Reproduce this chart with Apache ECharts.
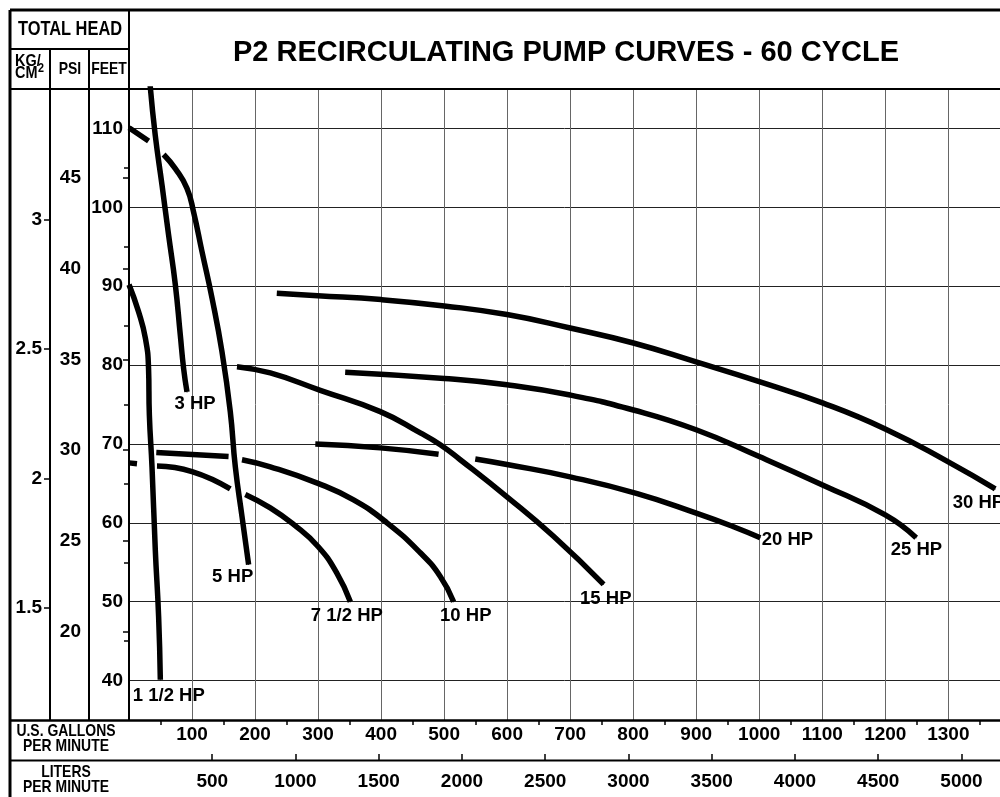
<!DOCTYPE html>
<html>
<head>
<meta charset="utf-8">
<title>P2 Recirculating Pump Curves - 60 Cycle</title>
<script src="https://cdn.jsdelivr.net/npm/echarts@6/dist/echarts.min.js"></script>
<style>
  html, body { margin: 0; padding: 0; background: #fff; }
  #main { width: 1000px; height: 797px; }
</style>
</head>
<body>
<div id="main"></div>
<script>
// pump curves: [flow in U.S. gpm, total head in feet], null = break where another curve crosses
const hp1_5 = [[0, 90.2], [15, 86.8], [26, 83.4], [31, 79.6], [32.3, 73.7], [36.5, 67.1], [41.7, 56.6], [47, 48.1], [49.7, 40.1]];
const hp3 = [[33.5, 115.5], [41.7, 109.1], [52.4, 102.8], [62.8, 96.5], [73.5, 90.2], [81.4, 83.8], [86.6, 79.6], [92, 76.6]];
const hp5 = [[0, 110.1], [31.1, 108.4], null, [54.9, 106.7], [73.5, 104.9], [92, 102.4], [102.5, 99.4], [115.8, 94.4], [131.7, 88.5], [147.5, 81.7], [160.7, 74.1], [168.7, 67.1], [179.3, 60.8], [189.8, 54.7]];
const hp7_5 = [[0, 67.6], [12.7, 67.5], null, [44.4, 67.2], [100, 66.5], [160.7, 64.3], null, [184.5, 63.6], [224.2, 61.9], [261.1, 59.8], [299.9, 57.0], [330, 53.6], [351.2, 50.0]];
const hp10 = [[43.3, 68.9], [158, 68.4], null, [179.3, 68.0], [224.2, 67.1], [299.9, 65.0], [356.3, 62.9], [409.3, 60.0], [462.2, 56.2], [493.9, 53.2], [515, 50.0]];
const hp15 = [[171.3, 79.8], [224.2, 79.0], [303.5, 76.8], [398.7, 74.1], [462.2, 71.4], [493.9, 69.9], [525.6, 68.0], [599.7, 63.3], [673.6, 58.3], [753, 52.2]];
const hp20 = [[295.6, 70.0], [398.7, 69.5], [491.2, 68.7], null, [549.4, 68.1], [599.7, 67.4], [701.7, 65.8], [806.4, 63.7], [901.2, 61.2], [959.2, 59.5], [1001.6, 58.1]];
const hp25 = [[343, 79.1], [500.2, 78.3], [599.7, 77.5], [700, 76.2], [800.3, 74.3], [899.8, 71.8], [1000, 68.4], [1100.4, 64.8], [1199.9, 61.0], [1249, 58.1]];
const hp30 = [[234.5, 89.1], [299.5, 88.8], [400, 88.3], [500.2, 87.5], [599.7, 86.4], [700, 84.7], [800.3, 82.8], [899.8, 80.4], [1000, 77.9], [1100.4, 75.2], [1199.9, 71.9], [1300.6, 67.7], [1374.4, 64.3]];

const curveNames = ["1 1/2 HP", "3 HP", "5 HP", "7 1/2 HP", "10 HP", "15 HP", "20 HP", "25 HP", "30 HP"];
const curves = [hp1_5, hp3, hp5, hp7_5, hp10, hp15, hp20, hp25, hp30];

// tick labels
const gpmLabels = [100, 200, 300, 400, 500, 600, 700, 800, 900, 1000, 1100, 1200, 1300];
const gpmMinor = [50, 150, 250, 350, 450, 550, 650, 750, 850, 950, 1050, 1150, 1250, 1350];
const literLabels = [500, 1000, 1500, 2000, 2500, 3000, 3500, 4000, 4500, 5000];
const feetLabels = [40, 50, 60, 70, 80, 90, 100, 110];
const feetMinor = [45, 55, 65, 75, 85, 95, 105];
const psiLabels = [20, 25, 30, 35, 40, 45];
const kgLabels = [1.5, 2, 2.5, 3];

// axis ranges and unit conversions
const GPM_MAX = 1382;
const FT_MIN = 35, FT_MAX = 115;
const L_PER_GAL = 3.78541;
const FT_PER_PSI = 2.30666;
const FT_PER_KG = 32.808;

// where each curve name sits relative to the curve end (px)
const labelPos = [[-27, 17], [-12, 13], [-36, 13], [-39, 15], [-13, 15], [-23, 15], [2, 3], [-25, 13], [-42, 15]];

const FONT = "'Liberation Sans', Arial, Helvetica, sans-serif";

const chart = echarts.init(document.getElementById("main"), null, { renderer: "canvas" });

const series = curves.map(function (pts, i) {
  const data = pts.map(p => (p === null ? ["-", "-"] : p));
  const last = data.length - 1;
  data[last] = {
    value: data[last],
    symbol: "circle",
    symbolSize: 1,
    label: {
      show: true,
      formatter: curveNames[i],
      position: labelPos[i],
      align: "left",
      verticalAlign: "middle",
      color: "#000",
      fontFamily: FONT,
      fontWeight: "bold",
      fontSize: 18.5
    }
  };
  return {
    type: "line",
    name: curveNames[i],
    data: data,
    smooth: 0.5,
    symbol: "none",
    connectNulls: false,
    silent: true,
    lineStyle: { color: "#000", width: 5.5, cap: "butt", join: "round" },
    itemStyle: { color: "#000" },
    emphasis: { disabled: true }
  };
});

function line(x1, y1, x2, y2, w) {
  return { type: "line", shape: { x1, y1, x2, y2 }, style: { stroke: "#000", lineWidth: w }, z: 10, silent: true };
}
// header text; condensed by squeezing horizontally like the original lettering
function text(t, x, y, size, align, squeeze) {
  return {
    type: "text", z: 10, silent: true,
    x: x, y: y, scaleX: squeeze || 0.82,
    style: {
      text: t, x: 0, y: 0, fill: "#000",
      font: "bold " + size + "px " + FONT,
      textAlign: align || "center", align: align || "center",
      textVerticalAlign: "middle", verticalAlign: "middle"
    }
  };
}

const labelFont = { fontFamily: FONT, fontWeight: "bold", fontSize: 19, color: "#000", formatter: v => String(v) };

chart.setOption({
  animation: false,
  backgroundColor: "#fff",
  grid: { left: 129, top: 89, right: 0, bottom: 77, outerBoundsMode: "none" },
  xAxis: [
    {
      type: "value", min: 0, max: GPM_MAX, position: "bottom",
      axisLine: { show: false },
      axisTick: { show: false, customValues: gpmLabels },
      axisLabel: Object.assign({ customValues: gpmLabels, margin: 5 }, labelFont),
      splitLine: { show: true, lineStyle: { color: "#666", width: 1 } }
    },
    {
      type: "value", min: 0, max: GPM_MAX, position: "bottom",
      axisLine: { show: false },
      axisTick: { show: true, customValues: gpmMinor, length: 5, lineStyle: { color: "#000", width: 1.5 } },
      axisLabel: { show: false },
      splitLine: { show: false }
    },
    {
      type: "value", min: 0, max: GPM_MAX * L_PER_GAL, position: "bottom", offset: 40,
      axisLine: { show: false },
      axisTick: { show: true, inside: true, customValues: literLabels, length: 6, lineStyle: { color: "#000", width: 1.5 } },
      axisLabel: Object.assign({ customValues: literLabels, margin: 12 }, labelFont),
      splitLine: { show: false }
    }
  ],
  yAxis: [
    {
      type: "value", min: FT_MIN, max: FT_MAX, position: "left",
      axisLine: { show: false },
      axisTick: { show: false, customValues: feetLabels },
      axisLabel: Object.assign({ customValues: feetLabels, margin: 6 }, labelFont),
      splitLine: { show: true, lineStyle: { color: "#222", width: 1 } }
    },
    {
      type: "value", min: FT_MIN, max: FT_MAX, position: "left",
      axisLine: { show: false },
      axisTick: { show: true, customValues: feetMinor, length: 5, lineStyle: { color: "#000", width: 1.5 } },
      axisLabel: { show: false },
      splitLine: { show: false }
    },
    {
      type: "value", min: FT_MIN / FT_PER_PSI, max: FT_MAX / FT_PER_PSI, position: "left", offset: 40,
      axisLine: { show: false },
      axisTick: { show: true, customValues: psiLabels, length: 6, lineStyle: { color: "#000", width: 1.5 } },
      axisLabel: Object.assign({ customValues: psiLabels, margin: 8 }, labelFont),
      splitLine: { show: false }
    },
    {
      type: "value", min: FT_MIN / FT_PER_KG, max: FT_MAX / FT_PER_KG, position: "left", offset: 79,
      axisLine: { show: false },
      axisTick: { show: true, customValues: kgLabels, length: 6, lineStyle: { color: "#000", width: 1.5 } },
      axisLabel: Object.assign({ customValues: kgLabels, margin: 8 }, labelFont),
      splitLine: { show: false }
    }
  ],
  graphic: [
    // frame
    line(10, 10, 1000, 10, 3),
    line(10, 10, 10, 797, 3),
    line(10, 49, 129, 49, 2),
    line(10, 89, 1000, 89, 2),
    line(10, 720.5, 1000, 720.5, 2.5),
    line(10, 760.5, 1000, 760.5, 2),
    line(50, 49, 50, 720.5, 2),
    line(89, 49, 89, 720.5, 2),
    line(129, 10, 129, 720.5, 2),
    // header texts
    text("P2 RECIRCULATING PUMP CURVES - 60 CYCLE", 566, 53, 29, "center", 1),
    text("TOTAL HEAD", 70, 29, 20),
    text("KG/", 15, 61, 17, "left", 0.85),
    text("CM", 15, 73, 17, "left", 0.85),
    text("2", 38, 68.5, 12, "left", 0.9),
    text("PSI", 70, 69, 17),
    text("FEET", 109, 69, 17),
    text("U.S. GALLONS", 66, 731, 17),
    text("PER MINUTE", 66, 746, 17),
    text("LITERS", 66, 772, 17),
    text("PER MINUTE", 66, 787, 17)
  ],
  series: series
});
</script>
</body>
</html>
